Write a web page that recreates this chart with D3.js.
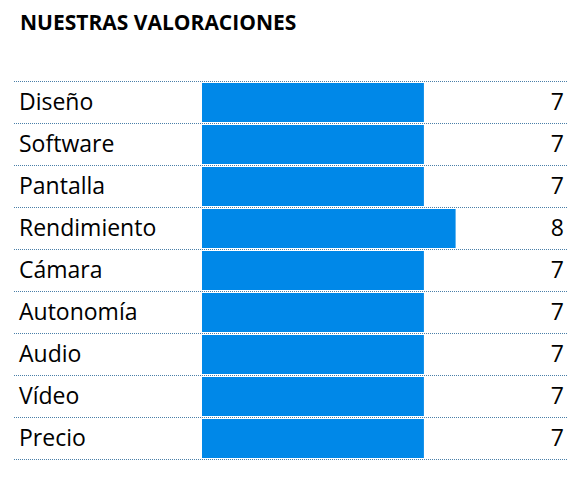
<!DOCTYPE html><html><head><meta charset="utf-8"><script src="https://cdn.jsdelivr.net/npm/d3@7"></script>
<style>body{margin:0;background:#fff}</style></head><body><script>
const categories=["Diseño","Software","Pantalla","Rendimiento","Cámara","Autonomía","Audio","Vídeo","Precio"];
const values=[7,7,7,8,7,7,7,7,7];
const svg=d3.select("body").append("svg").attr("width",584).attr("height",477);
const font="'Open Sans', sans-serif";
svg.append("text").attr("x",20).attr("y",30).attr("font-family",font).attr("font-weight","bold").attr("font-size",21).attr("fill","#000").text("NUESTRAS VALORACIONES");
const y=d3.scaleBand().domain(categories).range([81,459]);
const x=d3.scaleLinear().domain([0,10]).range([0,317]);
const g=svg.append("g");
const lines=[...categories.map(c=>y(c)),y.range()[1]];
g.selectAll("line").data(lines).join("line").attr("x1",14).attr("x2",568).attr("y1",d=>d+0.5).attr("y2",d=>d+0.5).attr("stroke","#4a7fa8").attr("stroke-dasharray","1,1");
g.selectAll("rect").data(categories).join("rect").attr("x",202).attr("y",d=>y(d)+2).attr("height",y.bandwidth()-3).attr("width",(d,i)=>x(values[i])).attr("fill","#0088e8");
g.selectAll("text.l").data(categories).join("text").attr("class","l").attr("x",19).attr("y",d=>y(d)+y.bandwidth()/2+8).attr("font-family",font).attr("font-size",23).text(d=>d);
g.selectAll("text.v").data(categories).join("text").attr("class","v").attr("x",564).attr("text-anchor","end").attr("y",d=>y(d)+y.bandwidth()/2+8).attr("font-family",font).attr("font-size",23).text((d,i)=>values[i]);
</script></body></html>
